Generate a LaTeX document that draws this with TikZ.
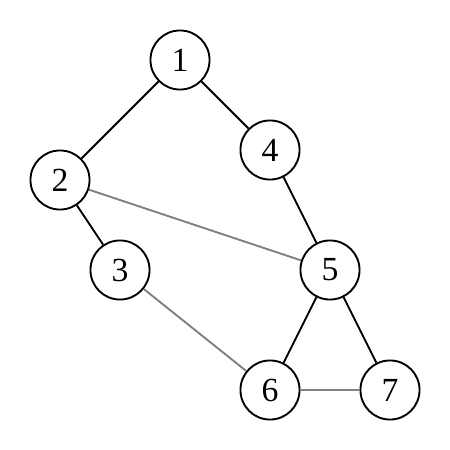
\documentclass[tikz,border=0pt]{standalone}
\usepackage{fontspec}
\setmainfont{Liberation Serif}
\usepackage{xcolor}
\usepackage{tikz}

\begin{document}
\begin{tikzpicture}[
    vertex/.style={circle, draw, line width=1.8pt, fill=white, minimum size=1.97cm, inner sep=0pt, font=\fontsize{32}{36}\selectfont},
    edge/.style={line width=1.8pt, black},
    weak/.style={line width=1.8pt, gray}
]
    \useasboundingbox (0,0) rectangle (15,-15);

    \node[vertex] (n1) at (6,-2) {1};
    \node[vertex] (n2) at (2,-6) {2};
    \node[vertex] (n3) at (4,-9) {3};
    \node[vertex] (n4) at (9,-5) {4};
    \node[vertex] (n5) at (11,-9) {5};
    \node[vertex] (n6) at (9,-13) {6};
    \node[vertex] (n7) at (13,-13) {7};

    \draw[edge] (n1) -- (n2);
    \draw[edge] (n1) -- (n4);
    \draw[edge] (n2) -- (n3);
    \draw[edge] (n4) -- (n5);
    \draw[edge] (n5) -- (n6);
    \draw[edge] (n5) -- (n7);
    \draw[weak] (n2) -- (n5);
    \draw[weak] (n3) -- (n6);
    \draw[weak] (n6) -- (n7);
\end{tikzpicture}
\end{document}
